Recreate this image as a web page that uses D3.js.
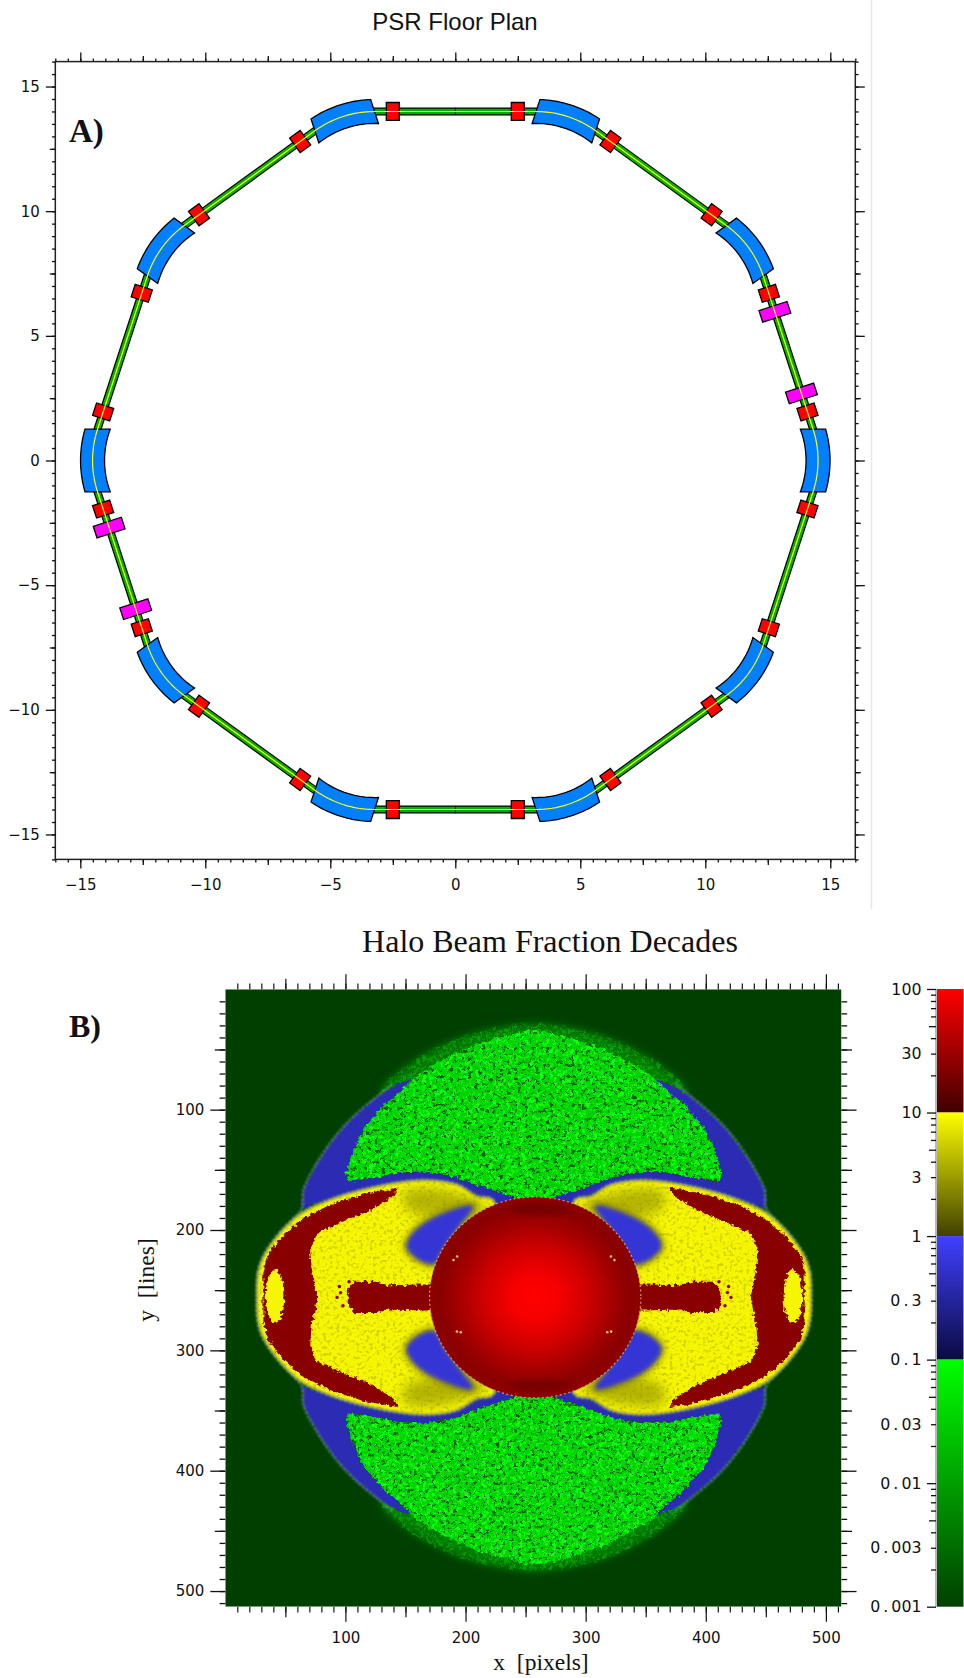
<!DOCTYPE html>
<html>
<head>
<meta charset="utf-8">
<title>PSR Floor Plan and Halo Beam Fraction</title>
<script src="https://cdn.jsdelivr.net/npm/d3@7"></script>
<style>
html, body { margin: 0; padding: 0; background: #fff; }
svg { display: block; }
text { white-space: pre; }
.tick text { font-family: "DejaVu Sans", sans-serif; font-size: 15px; fill: #111; }
.barlabels .tick text { font-size: 15.8px; }
</style>
</head>
<body>
<script>
// ---- panel A values, metres ----
var planTicksMajor = [-15, -10, -5, 0, 5, 10, 15];
var planTicksMedium = [-12.5, -7.5, -2.5, 2.5, 7.5, 12.5];
var dipolePolar = [0, 36, 72, 108, 144, 180, 216, 252, 288, 324];
var straightPolar = [18, 54, 90, 126, 162, 198, 234, 270, 306, 342];
var quadOffsets = [-2.5, 2.5];
var kickerStraights = [18, 198];
var kickerOffsets = [-1.72, 1.72];
var ringApothem = 14;
var bendRadius = 4.06;
var bendCentre = 10.45;
var bendHalfWidth = 0.48;
var bendHalfAngle = 18;
var straightHalf = 3.6;

// ---- panel B values, outlines in image pixels / lines, upper left quarter ----
var imageTicksMajor = [100, 200, 300, 400, 500];
var imageTicksMedium = [50, 150, 250, 350, 450];
var imageCentre = [257, 256];
var sphereRadius = [88, 83.5];
var haloFade = [[257,28],[231,31],[204,37],[179,47],[162,56],[145,68],[130,84],[140,100],[257,110]];
var haloBright = [[257,34],[235,38],[218,43],[190,54],[168,66],[156,74],[145.6,85],[131.7,96],[115,115.4],[106.7,133.4],[100.6,152.8],[102.5,159.8],[123.4,157],[142.8,152.8],[165,151.5],[190,155.6],[212.3,163.9],[237.3,171.7],[257,178]];
var crescent = [[63.7,182],[65,166.7],[76.2,144.5],[91.4,122.4],[106.7,105.7],[126.2,89.1],[145.6,78],[156.2,74.7],[145.6,85],[131.7,96],[115,115.4],[106.7,133.4],[100.6,152.8],[102.5,159.8],[123.4,157],[142.8,152.8],[165,151.5],[190,155.6],[212.3,163.9],[237.3,171.7],[248,182],[223,178],[192,163],[167,159],[142,161],[115,167],[87,175]];
var outerRim = [[45.6,202.7],[63.7,182],[65,166.7],[76.2,144.5],[91.4,122.4],[106.7,105.7],[126.2,89.1],[140,78]];
var lobeEdge = [[26.5,256],[27.5,236],[32,222],[45.6,202.7],[63.6,186],[87.2,175],[115,166.6],[142.8,161],[167.8,158.9],[192.8,162.5],[209.5,172.2],[223.3,176]];
var redBand = [[31.7,256],[31.7,236],[34.5,222],[45.6,206.8],[65,190],[87.2,179],[115,170],[144.2,164.7],[140,172],[120.6,183.8],[98.3,193],[76,202.7],[70.6,216.5],[72,233],[76.7,256]];
var redBar = [[101.5,256],[102.5,248],[108,243],[126,243],[134.5,246],[175,245]];
var bluePatch = [[206,180],[194,198],[182,215],[174,228],[160,224],[151,214],[155,204],[171,191]];
var oliveBlob = [[150,168],[175,166],[200,172],[218,182],[200,192],[175,190],[150,182]];
var endOval = [41.4, 255.3, 7.8, 22];
var barSpecks = [[95,247],[93,256],[98,263],[103,243],[96,252]];
var sphereSpecks = [[190,225],[193,222],[192.8,284.4],[196,285]];
var sphereCaps = [[262,183],[262,329]];

var haloValue = 0.035;
var haloFadeValue = 0.004;
var crescentValue = 0.4;
var lobeValue = 9;
var oliveValue = 2.5;
var redValue = 24;
var sphereStops = [0, 0.22, 0.5, 0.75, 0.9, 1];
var sphereValues = [100, 90, 55, 32, 24, 26];

// ---- colour bar values ----
var barTickLabels = [100, 30, 10, 3, 1, 0.3, 0.1, 0.03, 0.01, 0.003, 0.001];
var barDecades = [100, 10, 1, 0.1, 0.01, 0.001];
var segmentTop = [100, 10, 1, 0.1];
var segmentBottom = [10, 1, 0.1, 0.001];
var segmentBright = ["#ff0000", "#ffff00", "#4040ff", "#00ff00"];
var segmentDark = ["#400000", "#404000", "#0a0a40", "#003f00"];

function colorFor(v) {
	for (var i = 0; i < segmentTop.length; i++) {
		if (v <= segmentTop[i] && v >= segmentBottom[i]) {
			var t = Math.log(v / segmentBottom[i]) / Math.log(segmentTop[i] / segmentBottom[i]);
			return d3.interpolateRgb(segmentDark[i], segmentBright[i])(t);
		}
	}
	return "#000";
}

var svg = d3.select("body").append("svg").attr("width", 964).attr("height", 1678);
var defs = svg.append("defs");
buildFilters();

svg.append("line").attr("x1", 871.5).attr("x2", 871.5).attr("y1", 0).attr("y2", 909)
	.attr("stroke", "#e8e8e8").attr("stroke-width", 1.5);

drawFloorPlan();
drawHaloImage();
drawColorBar();

function addTitle(txt, x, y, family, size, weight, anchor) {
	return svg.append("text").attr("x", x).attr("y", y)
		.attr("font-family", family).attr("font-size", size).attr("font-weight", weight || "normal")
		.attr("text-anchor", anchor || "middle").attr("fill", "#111").text(txt);
}

function addTicks(scale, orient, values, size, at, labelled, pad, width) {
	var axis = d3[orient](scale).tickValues(values).tickSize(size).tickPadding(pad || 3)
		.tickFormat(labelled ? function(d) { return String(d).replace("-", "\u2212"); } : "");
	var isX = orient == "axisTop" || orient == "axisBottom";
	var g = svg.append("g").attr("transform", isX ? "translate(0," + at + ")" : "translate(" + at + ",0)").call(axis);
	g.attr("font-family", null).attr("font-size", null);
	g.select(".domain").remove();
	g.selectAll("line").attr("stroke", "#111").attr("stroke-width", width || 1.3);
	return g;
}

function drawFloorPlan() {
	var x = d3.scaleLinear().domain([-16, 16]).range([55.3, 855.3]);
	var y = d3.scaleLinear().domain([-16, 16]).range([859.4, 61.6]);
	var line = d3.line().x(function(d) { return x(d[0]); }).y(function(d) { return y(d[1]); });
	var minor = d3.range(-16, 16.01, 0.5);

	addTitle("PSR Floor Plan", 455, 30, "'Liberation Sans', sans-serif", 24);
	addTitle("A)", 69, 142, "'Liberation Serif', serif", 33, "bold", "start");

	svg.append("rect").attr("x", x(-16)).attr("y", y(16)).attr("width", x(16) - x(-16)).attr("height", y(-16) - y(16))
		.attr("fill", "none").attr("stroke", "#222").attr("stroke-width", 1.5);

	[["axisBottom", y(-16)], ["axisTop", y(16)]].forEach(function(a) {
		addTicks(x, a[0], minor, 3, a[1]);
		addTicks(x, a[0], planTicksMedium, 5.5, a[1]);
		addTicks(x, a[0], planTicksMajor, 9, a[1], a[0] == "axisBottom", 11);
	});
	[["axisLeft", x(-16)], ["axisRight", x(16)]].forEach(function(a) {
		addTicks(y, a[0], minor, 3.3, a[1]);
		addTicks(y, a[0], planTicksMedium, 5.5, a[1]);
		addTicks(y, a[0], planTicksMajor, 9.5, a[1], a[0] == "axisLeft", 6);
	});

	function polar(deg, r) {
		var a = deg * Math.PI / 180;
		return [r * Math.cos(a), r * Math.sin(a)];
	}
	// point along a straight, offset s along it and n across it
	function onStraight(deg, s, n) {
		var a = deg * Math.PI / 180;
		var r = ringApothem + n;
		return [r * Math.cos(a) - s * Math.sin(a), r * Math.sin(a) + s * Math.cos(a)];
	}
	function box(deg, s, along, across) {
		return [onStraight(deg, s - along, -across), onStraight(deg, s + along, -across),
			onStraight(deg, s + along, across), onStraight(deg, s - along, across)];
	}
	function arcPoints(deg, r, halfEnd) {
		var c = polar(deg, bendCentre);
		var tmax = Math.asin(halfEnd / r) * 180 / Math.PI;
		return d3.range(-tmax, tmax + 0.01, tmax / 12).map(function(t) {
			var p = polar(deg + t, r);
			return [c[0] + p[0], c[1] + p[1]];
		});
	}

	var plan = svg.append("g");
	var halfEnd = bendRadius * Math.sin(bendHalfAngle * Math.PI / 180);

	// straight sections
	straightPolar.forEach(function(deg) {
		var ends = [onStraight(deg, -straightHalf, 0), onStraight(deg, straightHalf, 0)];
		plan.append("path").attr("d", line(ends)).attr("stroke", "#000").attr("stroke-width", 8).attr("fill", "none");
		plan.append("path").attr("d", line(ends)).attr("stroke", "#00b000").attr("stroke-width", 5.6).attr("fill", "none");
	});
	[90, 270].forEach(function(deg) {
		plan.append("path").attr("d", line([onStraight(deg, 0, -0.15), onStraight(deg, 0, 0.15)]))
			.attr("stroke", "#000").attr("stroke-width", 1).attr("fill", "none");
	});

	// dipoles
	dipolePolar.forEach(function(deg) {
		var outer = arcPoints(deg, bendRadius + bendHalfWidth, halfEnd);
		var inner = arcPoints(deg, bendRadius - bendHalfWidth, halfEnd).reverse();
		plan.append("path").attr("d", line(outer.concat(inner)) + "Z")
			.attr("fill", "#0080ff").attr("stroke", "#000").attr("stroke-width", 1.3);
	});

	// quadrupoles and kickers
	straightPolar.forEach(function(deg) {
		quadOffsets.forEach(function(s) {
			plan.append("path").attr("d", line(box(deg, s, 0.26, 0.36)) + "Z")
				.attr("fill", "#ff0000").attr("stroke", "#000").attr("stroke-width", 1.3);
		});
	});
	kickerStraights.forEach(function(deg) {
		kickerOffsets.forEach(function(s) {
			plan.append("path").attr("d", line(box(deg, s, 0.245, 0.59)) + "Z")
				.attr("fill", "#ff00ff").attr("stroke", "#000").attr("stroke-width", 1.3);
		});
	});

	// beam centre line on top of everything
	var beam = [];
	dipolePolar.forEach(function(deg) { beam = beam.concat(arcPoints(deg, bendRadius, halfEnd)); });
	plan.append("path").attr("d", line(beam) + "Z").attr("fill", "none").attr("stroke", "#ffff00").attr("stroke-width", 1.2);
}

function buildFilters() {
	var soft = defs.append("filter").attr("id", "soft").attr("x", "-10%").attr("y", "-10%").attr("width", "120%").attr("height", "120%");
	soft.append("feGaussianBlur").attr("stdDeviation", 0.8);

	var soft2 = defs.append("filter").attr("id", "soft2").attr("x", "-20%").attr("y", "-20%").attr("width", "140%").attr("height", "140%");
	soft2.append("feGaussianBlur").attr("stdDeviation", 2);

	var blur3 = defs.append("filter").attr("id", "blur3").attr("x", "-30%").attr("y", "-30%").attr("width", "160%").attr("height", "160%");
	blur3.append("feGaussianBlur").attr("stdDeviation", 3.5);

	var blur5 = defs.append("filter").attr("id", "blur5").attr("x", "-40%").attr("y", "-40%").attr("width", "180%").attr("height", "180%");
	blur5.append("feGaussianBlur").attr("stdDeviation", 6);

	// ragged threshold edge of the decade regions
	var rough = defs.append("filter").attr("id", "rough").attr("x", "-10%").attr("y", "-10%").attr("width", "120%").attr("height", "120%")
		.attr("color-interpolation-filters", "sRGB");
	rough.append("feTurbulence").attr("type", "fractalNoise").attr("baseFrequency", 0.28).attr("numOctaves", 2).attr("seed", 3).attr("result", "n");
	rough.append("feDisplacementMap").attr("in", "SourceGraphic").attr("in2", "n").attr("scale", 6).attr("xChannelSelector", "R").attr("yChannelSelector", "G").attr("result", "d");
	rough.append("feGaussianBlur").attr("in", "d").attr("stdDeviation", 0.5);

	// image grain only: a surface texture, it does not stand for any read value
	function grain(id, freq, seed, r, g, b, gain, bias) {
		var f = defs.append("filter").attr("id", id).attr("x", 0).attr("y", 0).attr("width", "100%").attr("height", "100%")
			.attr("color-interpolation-filters", "sRGB");
		f.append("feTurbulence").attr("type", "fractalNoise").attr("baseFrequency", freq).attr("numOctaves", 2).attr("seed", seed);
		f.append("feColorMatrix").attr("type", "matrix")
			.attr("values", "0 0 0 0 " + r + " 0 0 0 0 " + g + " 0 0 0 0 " + b + " " + gain + " 0 0 0 " + bias);
		f.append("feGaussianBlur").attr("stdDeviation", 0.55);
	}
	grain("grainDark", 0.28, 5, 0.02, 0.36, 0.02, 6, -3.3);
	grain("grainBright", 0.3, 9, 0.08, 1, 0.08, 6, -2.9);
	grain("grainOlive", 0.3, 11, 0.55, 0.55, 0, 5, -2.6);
}

function drawHaloImage() {
	var x = d3.scaleLinear().domain([0, 513]).range([225.3, 841.5]);
	var y = d3.scaleLinear().domain([0, 513]).range([989.3, 1606.7]);
	var line = d3.line().x(function(d) { return x(d[0]); }).y(function(d) { return y(d[1]); });
	var smooth = d3.line().x(function(d) { return x(d[0]); }).y(function(d) { return y(d[1]); }).curve(d3.curveCatmullRomClosed.alpha(0.5));
	var open = d3.line().x(function(d) { return x(d[0]); }).y(function(d) { return y(d[1]); }).curve(d3.curveCatmullRom.alpha(0.5));
	var minor = d3.range(10, 511, 10);
	var cx = imageCentre[0], cy = imageCentre[1];

	function mirX(p) { return p.map(function(d) { return [2 * cx - d[0], d[1]]; }); }
	function mirY(p) { return p.map(function(d) { return [d[0], 2 * cy - d[1]]; }); }
	function rev(p) { return p.slice().reverse(); }
	function fourWays(p) { return [p, mirX(p), mirY(p), mirX(mirY(p))]; }
	function twoWaysY(p) { return [p, mirY(p)]; }
	function twoWaysX(p) { return [p, mirX(p)]; }
	function topWhole(p) { return p.concat(rev(mirX(p)).slice(1, -1)); }
	function leftWhole(p) { return p.concat(rev(mirY(p)).filter(function(d) { return d[1] != cy; })); }
	function fullRect(parent) {
		return parent.append("rect").attr("x", x(0)).attr("y", y(0)).attr("width", x(513) - x(0)).attr("height", y(513) - y(0));
	}

	addTitle("Halo Beam Fraction Decades", 550, 951.5, "'Liberation Serif', serif", 32);
	addTitle("B)", 69, 1037, "'Liberation Serif', serif", 32, "bold", "start");
	addTitle("x  [pixels]", 541, 1670, "'Liberation Serif', serif", 23.5);
	svg.append("text").attr("transform", "translate(154,1280) rotate(-90)")
		.attr("font-family", "'Liberation Serif', serif").attr("font-size", 23.5).attr("text-anchor", "middle")
		.attr("fill", "#111").text("y  [lines]");

	defs.append("clipPath").attr("id", "imageClip").append("rect")
		.attr("x", x(0)).attr("y", y(0)).attr("width", x(513) - x(0)).attr("height", y(513) - y(0));

	var img = svg.append("g").attr("clip-path", "url(#imageClip)");
	fullRect(img).attr("fill", colorFor(0.001));

	// green halo, top and bottom, with a speckled rim that fades out
	twoWaysY(topWhole(haloFade)).forEach(function(p, i) {
		img.append("path").attr("d", smooth(p)).attr("fill", colorFor(haloFadeValue)).attr("filter", "url(#blur3)");
		var id = "fadeClip" + i;
		defs.append("clipPath").attr("id", id).append("path").attr("d", smooth(p));
		var g = img.append("g").attr("filter", "url(#rough)").attr("opacity", 0.3).append("g").attr("clip-path", "url(#" + id + ")");
		fullRect(g).attr("filter", "url(#grainBright)");
	});
	twoWaysY(topWhole(haloBright)).forEach(function(p, i) {
		var id = "haloClip" + i;
		defs.append("clipPath").attr("id", id).append("path").attr("d", smooth(p));
		var g = img.append("g").attr("filter", "url(#rough)").append("g").attr("clip-path", "url(#" + id + ")");
		fullRect(g).attr("fill", colorFor(haloValue));
		fullRect(g).attr("filter", "url(#grainBright)");
		fullRect(g).attr("filter", "url(#grainDark)");
	});

	// blue crescents and the band over the lobes
	fourWays(crescent).forEach(function(p) {
		img.append("path").attr("d", line(p) + "Z").attr("fill", colorFor(crescentValue)).attr("filter", "url(#rough)");
	});
	fourWays(outerRim).forEach(function(p) {
		img.append("path").attr("d", open(p)).attr("fill", "none").attr("stroke", "#64967a").attr("stroke-width", 2)
			.attr("stroke-dasharray", "3 1.5").attr("filter", "url(#soft)");
	});

	// yellow lobes, with the teal rim just outside them
	var lobe = leftWhole(lobeEdge);
	twoWaysX(lobe).forEach(function(p, i) {
		img.append("path").attr("d", smooth(p)).attr("fill", "none").attr("stroke", "#4f8f72").attr("stroke-width", 4)
			.attr("stroke-dasharray", "3 2").attr("filter", "url(#soft)");
		img.append("path").attr("d", smooth(p)).attr("fill", colorFor(lobeValue)).attr("filter", "url(#soft)");
		var id = "lobeClip" + i;
		defs.append("clipPath").attr("id", id).append("path").attr("d", smooth(p));
		fullRect(img.append("g").attr("clip-path", "url(#" + id + ")")).attr("filter", "url(#grainOlive)").attr("opacity", 0.35);
	});

	// olive shading that leads into the blue patches
	fourWays(oliveBlob).forEach(function(p) {
		img.append("path").attr("d", smooth(p)).attr("fill", colorFor(oliveValue)).attr("opacity", 0.6).attr("filter", "url(#blur5)");
	});
	fourWays(bluePatch).forEach(function(p) {
		img.append("path").attr("d", smooth(p)).attr("fill", colorFor(oliveValue)).attr("stroke", colorFor(oliveValue))
			.attr("stroke-width", 7).attr("opacity", 0.8).attr("filter", "url(#blur3)");
	});
	fourWays(bluePatch).forEach(function(p) {
		img.append("path").attr("d", smooth(p)).attr("fill", colorFor(0.6)).attr("filter", "url(#soft2)");
	});

	// dark red band and bar
	twoWaysX(leftWhole(redBand)).forEach(function(p) {
		img.append("path").attr("d", line(p) + "Z").attr("fill", colorFor(redValue)).attr("filter", "url(#rough)");
	});
	twoWaysX(leftWhole(redBar)).forEach(function(p) {
		img.append("path").attr("d", line(p) + "Z").attr("fill", colorFor(redValue)).attr("filter", "url(#rough)");
	});
	barSpecks.concat(mirX(barSpecks)).forEach(function(d) {
		img.append("circle").attr("cx", x(d[0])).attr("cy", y(d[1])).attr("r", 1.7).attr("fill", colorFor(redValue));
	});

	// yellow ovals in the lobe tips
	[endOval[0], 2 * cx - endOval[0]].forEach(function(ox) {
		img.append("ellipse").attr("cx", x(ox)).attr("cy", y(endOval[1]))
			.attr("rx", x(endOval[2]) - x(0)).attr("ry", y(endOval[3]) - y(0))
			.attr("fill", colorFor(lobeValue)).attr("filter", "url(#rough)");
	});

	// pale threshold speckle along the lobe edge
	twoWaysX(lobe).forEach(function(p) {
		img.append("path").attr("d", smooth(p)).attr("fill", "none").attr("stroke", "#d0a478").attr("stroke-width", 1.5)
			.attr("stroke-dasharray", "2 1.6").attr("filter", "url(#soft)");
	});

	// central sphere
	var grad = defs.append("radialGradient").attr("id", "sphereFill");
	sphereStops.forEach(function(s, i) {
		grad.append("stop").attr("offset", s).attr("stop-color", colorFor(sphereValues[i]));
	});
	img.append("ellipse").attr("cx", x(cx + 1)).attr("cy", y(cy))
		.attr("rx", x(sphereRadius[0]) - x(0)).attr("ry", y(sphereRadius[1]) - y(0))
		.attr("fill", "url(#sphereFill)").attr("stroke", "#c89a70").attr("stroke-width", 1.2).attr("stroke-dasharray", "2 2.5");
	sphereCaps.forEach(function(d) {
		img.append("ellipse").attr("cx", x(d[0])).attr("cy", y(d[1])).attr("rx", 30).attr("ry", 5)
			.attr("fill", colorFor(15)).attr("filter", "url(#blur3)").attr("opacity", 0.6);
	});
	sphereSpecks.concat(mirX(sphereSpecks)).forEach(function(d) {
		img.append("circle").attr("cx", x(d[0])).attr("cy", y(d[1])).attr("r", 1.3).attr("fill", "#e8c070");
	});

	// ticks on all four sides
	[["axisBottom", y(513)], ["axisTop", y(0)]].forEach(function(a) {
		addTicks(x, a[0], minor, 5.7, a[1], false, 3, 1.2);
		addTicks(x, a[0], imageTicksMedium, 10.5, a[1], false, 3, 1.2);
		addTicks(x, a[0], imageTicksMajor, 15, a[1], a[0] == "axisBottom", 11, 1.2);
	});
	[["axisLeft", x(0)], ["axisRight", x(513)]].forEach(function(a) {
		addTicks(y, a[0], minor, 5.7, a[1]);
		addTicks(y, a[0], imageTicksMedium, 10.5, a[1]);
		addTicks(y, a[0], imageTicksMajor, 15, a[1], a[0] == "axisLeft", 6);
	});
}

function drawColorBar() {
	var y = d3.scaleLog().domain([0.001, 100]).range([1606.7, 989]);
	var barX = 937, barW = 26.5;

	segmentTop.forEach(function(top, i) {
		var id = "barSeg" + i;
		var g = defs.append("linearGradient").attr("id", id).attr("x1", 0).attr("x2", 0).attr("y1", 0).attr("y2", 1);
		g.append("stop").attr("offset", 0).attr("stop-color", segmentBright[i]);
		g.append("stop").attr("offset", 1).attr("stop-color", segmentDark[i]);
		svg.append("rect").attr("x", barX).attr("y", y(top)).attr("width", barW)
			.attr("height", y(segmentBottom[i]) - y(top)).attr("fill", "url(#" + id + ")");
	});
	svg.append("line").attr("x1", 936).attr("x2", 936).attr("y1", y(100)).attr("y2", y(0.001))
		.attr("stroke", "#a8a8a8").attr("stroke-width", 1.6);

	var minor = [], medium = [];
	barDecades.slice(1).forEach(function(d) {
		[2, 3, 4, 6, 7, 8, 9].forEach(function(m) { minor.push(d * m); });
		medium.push(d * 5);
	});
	addTicks(y, "axisLeft", minor, 5, 936);
	addTicks(y, "axisLeft", medium, 7, 936);
	addTicks(y, "axisLeft", barDecades, 9, 936);

	// decimal point sits in a full digit cell in the reference
	var labels = addTicks(y, "axisLeft", barTickLabels, 0, 936, false, 14.5).attr("class", "barlabels");
	labels.selectAll("line").remove();
	labels.selectAll(".tick text").each(function(d) {
		var parts = String(d).split(".");
		var t = d3.select(this).text(null);
		t.append("tspan").text(parts[0]);
		if (parts.length > 1) {
			t.append("tspan").attr("dx", 3).text(".");
			t.append("tspan").attr("dx", 3).text(parts[1]);
		}
	});
}
</script>
</body>
</html>
